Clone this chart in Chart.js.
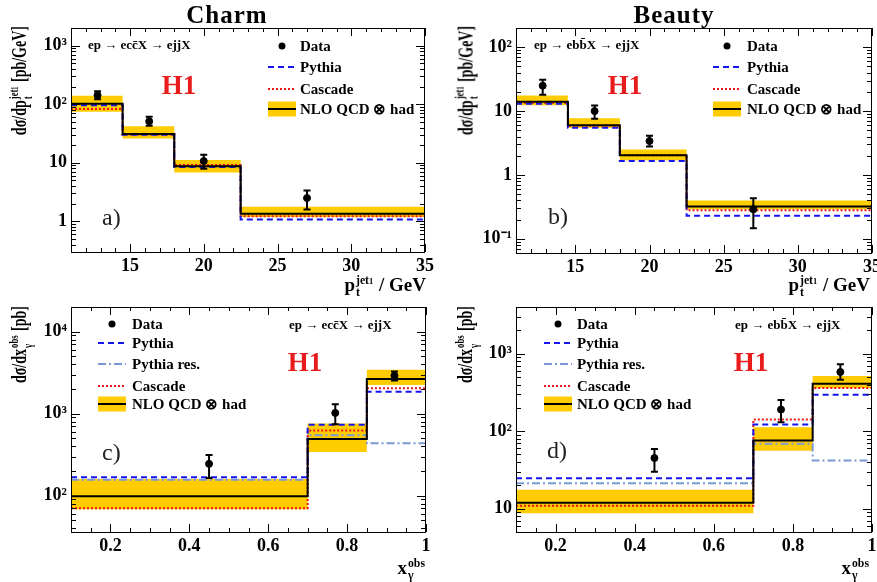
<!DOCTYPE html>
<html>
<head>
<meta charset="utf-8">
<script src="https://cdn.jsdelivr.net/npm/chart.js@4/dist/chart.umd.min.js"></script>
<style>
html, body { margin: 0; padding: 0; background: #fff; overflow: hidden; }
#wrap { position: relative; width: 877px; height: 582px; overflow: hidden; }
canvas { position: absolute; }
.t { position: absolute; white-space: nowrap; font-family: "Liberation Serif", "Times New Roman", serif; font-weight: bold; color: #000; line-height: 1; }
.ss { display: inline-block; vertical-align: middle; font-size: 0.62em; line-height: 1.05; text-align: left; margin: 0 1px; }
.ss > span { display: block; }
.ss small { font-size: 0.72em; }
.title { font-size: 25px; letter-spacing: 1px; }
.proc { font-size: 13px; }
.h1 { font-size: 27px; color: rgb(232, 28, 28); }
.tag { font-size: 24px; font-weight: normal; color: #222; }
.leg { font-size: 15px; }
.ytit { font-size: 14px; transform-origin: 100% 0; transform: rotate(-90deg) scale(1, 1.55); }
.xtit { font-size: 19px; }
svg { position: absolute; overflow: visible; }
</style>
</head>
<body>
<div id="wrap"></div>
<script>
// bin edges and data point positions
const ptEdges = [11, 14.5, 18, 22.5, 35];
const xgEdges = [0.1, 0.7, 0.85, 1.0];
const ptCentres = [12.8, 16.3, 20, 27];
const xgCentres = [0.45, 0.77, 0.92];

// tick labels
const ptTickLabels = [15, 20, 25, 30, 35];
const xgTickLabels = [0.2, 0.4, 0.6, 0.8, 1];

// a) charm, leading jet pt
const charmPtData = [142, 51, 10.7, 2.5];
const charmPtLo = [122, 43, 7.9, 1.6];
const charmPtHi = [166, 61, 13.7, 3.35];
const charmPtNlo = [102, 31, 8.7, 1.35];
const charmPtNloLo = [74, 26, 6.8, 1.19];
const charmPtNloHi = [140, 42, 11.2, 1.77];
const charmPtPythia = [96, 30, 8.5, 1.08];
const charmPtCascade = [83, 30.5, 9.2, 1.22];
const charmPtRange = [0.3, 2000];

// b) beauty, leading jet pt
const beautyPtData = [25, 10, 3.4, 0.29];
const beautyPtLo = [18, 7.6, 2.8, 0.146];
const beautyPtHi = [31, 12.2, 4.1, 0.43];
const beautyPtNlo = [14, 6.0, 2.03, 0.32];
const beautyPtNloLo = [12.4, 5.5, 1.7, 0.29];
const beautyPtNloHi = [17.6, 7.7, 2.5, 0.40];
const beautyPtPythia = [13, 5.5, 1.65, 0.23];
const beautyPtCascade = [13.5, 5.9, 2.05, 0.28];
const beautyPtRange = [0.06, 200];

// c) charm, x_gamma
const charmXgData = [244, 1020, 2900];
const charmXgLo = [164, 740, 2530];
const charmXgHi = [313, 1300, 3270];
const charmXgNlo = [98, 490, 2650];
const charmXgNloLo = [68, 340, 2240];
const charmXgNloHi = [160, 760, 3430];
const charmXgPythia = [168, 730, 1850];
const charmXgPythiaRes = [156, 545, 436];
const charmXgCascade = [70, 622, 2040];
const charmXgRange = [36, 20000];

// d) beauty, x_gamma
const beautyXgData = [45, 190, 580];
const beautyXgLo = [30, 130, 462];
const beautyXgHi = [59, 253, 730];
const beautyXgNlo = [11.9, 76, 410];
const beautyXgNloLo = [8.7, 56, 361];
const beautyXgNloHi = [17.5, 112, 516];
const beautyXgPythia = [24.7, 122, 294];
const beautyXgPythiaRes = [21.3, 69, 41.7];
const beautyXgCascade = [10.9, 141, 360];
const beautyXgRange = [5, 4000];

const YELLOW = '#ffcc00';
const BLUE = 'rgb(20, 20, 240)';
const LIGHTBLUE = 'rgb(122, 152, 215)';
const RED = 'rgb(240, 20, 20)';
const TICKFONT = { family: 'Liberation Serif', weight: 'bold', size: 18 };

const wrap = document.getElementById('wrap');

function stepPts(edges, vals) {
    return edges.map((e, i) => ({ x: e, y: vals[Math.min(i, vals.length - 1)] }));
}

function histLine(edges, vals, color, dash, order) {
    return { data: stepPts(edges, vals), stepped: true, borderColor: color, borderDash: dash,
             borderWidth: 2, pointRadius: 0, fill: false, order: order };
}

function isDecade(v) {
    const l = Math.log10(v);
    return Math.abs(l - Math.round(l)) < 1e-9;
}

function logTicks(min, max) {
    const out = [];
    for (let e = Math.floor(Math.log10(min)); e <= Math.ceil(Math.log10(max)); e++) {
        for (let m = 1; m <= 9; m++) {
            const v = m * Math.pow(10, e);
            if (v >= min * 0.9999 && v <= max * 1.0001) out.push({ value: v });
        }
    }
    return out;
}

function decadeLabel(v) {
    if (!isDecade(v)) return '';
    const k = Math.round(Math.log10(v));
    if (k === 0) return '1';
    if (k === 1) return '10';
    const sup = { '-': '⁻', '0': '⁰', '1': '¹', '2': '²', '3': '³', '4': '⁴', '5': '⁵' };
    return '10' + String(k).split('').map(c => sup[c]).join('');
}

const errorBars = {
    id: 'errorBars',
    afterDatasetsDraw(chart) {
        const ctx = chart.ctx, y = chart.scales.y;
        ctx.save();
        ctx.strokeStyle = '#000';
        ctx.lineWidth = 2;
        chart.data.datasets.forEach((ds, i) => {
            if (!ds.errLo) return;
            chart.getDatasetMeta(i).data.forEach((pt, j) => {
                const y1 = y.getPixelForValue(ds.errHi[j]);
                const y2 = y.getPixelForValue(ds.errLo[j]);
                ctx.beginPath();
                ctx.moveTo(pt.x, y1); ctx.lineTo(pt.x, y2);
                ctx.moveTo(pt.x - 3.5, y1); ctx.lineTo(pt.x + 3.5, y1);
                ctx.moveTo(pt.x - 3.5, y2); ctx.lineTo(pt.x + 3.5, y2);
                ctx.stroke();
            });
        });
        ctx.restore();
    }
};

function frameTicks(xLabels) {
    return {
        id: 'frameTicks',
        afterDatasetsDraw(chart) {
            const { ctx, chartArea: a } = chart;
            const x = chart.scales.x, y = chart.scales.y;
            ctx.save();
            ctx.strokeStyle = '#000';
            ctx.lineWidth = 1;
            ctx.beginPath();
            y.ticks.forEach(t => {
                const py = Math.round(y.getPixelForValue(t.value)) + 0.5;
                const len = isDecade(t.value) ? 9 : 5;
                ctx.moveTo(a.left, py); ctx.lineTo(a.left + len, py);
                ctx.moveTo(a.right, py); ctx.lineTo(a.right - len, py);
            });
            x.ticks.forEach(t => {
                const px = Math.round(x.getPixelForValue(t.value)) + 0.5;
                const major = xLabels.some(l => Math.abs(l - t.value) < 1e-6);
                const len = major ? 8 : 4;
                ctx.moveTo(px, a.bottom); ctx.lineTo(px, a.bottom - len);
                ctx.moveTo(px, a.top); ctx.lineTo(px, a.top + len);
            });
            ctx.stroke();
            ctx.strokeRect(a.left + 0.5, a.top + 0.5, a.right - a.left - 1, a.bottom - a.top);
            ctx.restore();
        }
    };
}

function makePanel(p) {
    const cv = document.createElement('canvas');
    cv.width = p.w; cv.height = p.h;
    cv.style.left = p.left + 'px';
    cv.style.top = p.top + 'px';
    wrap.appendChild(cv);

    const datasets = [];
    datasets.push({ data: stepPts(p.edges, p.nloHi), stepped: true, borderColor: 'rgba(0,0,0,0)',
                    borderWidth: 1, pointRadius: 0, backgroundColor: YELLOW, fill: '+1', order: 20 });
    datasets.push({ data: stepPts(p.edges, p.nloLo), stepped: true, borderColor: 'rgba(0,0,0,0)',
                    borderWidth: 1, pointRadius: 0, fill: false, order: 21 });
    if (p.pythiaRes) datasets.push(histLine(p.edges, p.pythiaRes, LIGHTBLUE, [8, 3, 2, 3], 6));
    datasets.push(histLine(p.edges, p.cascade, RED, [2, 2], 5));
    datasets.push(histLine(p.edges, p.pythia, BLUE, [6, 4], 4));
    datasets.push(histLine(p.edges, p.nlo, '#000', [], 3));
    datasets.push({ data: p.centres.map((c, i) => ({ x: c, y: p.data[i] })), showLine: false,
                    pointRadius: 3.5, pointBackgroundColor: '#000', pointBorderColor: '#000',
                    errLo: p.lo, errHi: p.hi, order: 0 });

    const xMin = p.edges[0], xMax = p.edges[p.edges.length - 1];
    new Chart(cv, {
        type: 'line',
        data: { datasets: datasets },
        options: {
            responsive: false,
            animation: false,
            devicePixelRatio: 1,
            layout: { padding: p.pad },
            plugins: { legend: { display: false }, tooltip: { enabled: false } },
            scales: {
                x: {
                    type: 'linear', min: xMin, max: xMax,
                    afterBuildTicks: s => {
                        const t = [];
                        for (let v = xMin; v <= xMax + 1e-9; v += p.xStep) t.push({ value: Math.round(v * 1e4) / 1e4 });
                        s.ticks = t;
                    },
                    afterFit: s => { s.height = 25; },
                    grid: { display: false, drawTicks: false },
                    border: { display: false },
                    ticks: {
                        autoSkip: false, maxRotation: 0, padding: 4, font: TICKFONT, color: '#000',
                        callback: v => p.xLabels.some(l => Math.abs(l - v) < 1e-6) ? String(Math.round(v * 1e4) / 1e4) : ''
                    }
                },
                y: {
                    type: 'logarithmic', min: p.yRange[0], max: p.yRange[1],
                    afterBuildTicks: s => { s.ticks = logTicks(p.yRange[0], p.yRange[1]); },
                    afterFit: s => { s.width = 60; },
                    grid: { display: false, drawTicks: false },
                    border: { display: false },
                    ticks: { autoSkip: false, padding: 4, font: TICKFONT, color: '#000', callback: v => decadeLabel(v) }
                }
            }
        },
        plugins: [errorBars, frameTicks(p.xLabels)]
    });
}

makePanel({ left: 0, top: 0, w: 438, h: 290, pad: { left: 11, right: 12, top: 28, bottom: 13 },
    edges: ptEdges, centres: ptCentres, xStep: 1, xLabels: ptTickLabels, yRange: charmPtRange,
    data: charmPtData, lo: charmPtLo, hi: charmPtHi, nlo: charmPtNlo, nloLo: charmPtNloLo, nloHi: charmPtNloHi,
    pythia: charmPtPythia, cascade: charmPtCascade });
makePanel({ left: 438, top: 0, w: 448, h: 290, pad: { left: 18, right: 14, top: 28, bottom: 12 },
    edges: ptEdges, centres: ptCentres, xStep: 1, xLabels: ptTickLabels, yRange: beautyPtRange,
    data: beautyPtData, lo: beautyPtLo, hi: beautyPtHi, nlo: beautyPtNlo, nloLo: beautyPtNloLo, nloHi: beautyPtNloHi,
    pythia: beautyPtPythia, cascade: beautyPtCascade });
makePanel({ left: 0, top: 290, w: 438, h: 292, pad: { left: 11, right: 12, top: 17, bottom: 25 },
    edges: xgEdges, centres: xgCentres, xStep: 0.05, xLabels: xgTickLabels, yRange: charmXgRange,
    data: charmXgData, lo: charmXgLo, hi: charmXgHi, nlo: charmXgNlo, nloLo: charmXgNloLo, nloHi: charmXgNloHi,
    pythia: charmXgPythia, pythiaRes: charmXgPythiaRes, cascade: charmXgCascade });
makePanel({ left: 438, top: 290, w: 448, h: 292, pad: { left: 18, right: 14, top: 17, bottom: 25 },
    edges: xgEdges, centres: xgCentres, xStep: 0.05, xLabels: xgTickLabels, yRange: beautyXgRange,
    data: beautyXgData, lo: beautyXgLo, hi: beautyXgHi, nlo: beautyXgNlo, nloLo: beautyXgNloLo, nloHi: beautyXgNloHi,
    pythia: beautyXgPythia, pythiaRes: beautyXgPythiaRes, cascade: beautyXgCascade });

// ---- text overlays ----
const SHIFT = { lm: 'translate(0,-50%)', cm: 'translate(-50%,-50%)', rm: 'translate(-100%,-50%)' };

function put(html, x, y, anchor, cls) {
    const d = document.createElement('div');
    d.className = 't ' + cls;
    d.innerHTML = html;
    d.style.left = x + 'px';
    d.style.top = y + 'px';
    d.style.transform = SHIFT[anchor];
    wrap.appendChild(d);
}

function yTitle(html, pivotX, topY) {
    const d = document.createElement('div');
    d.className = 't ytit';
    d.innerHTML = html;
    d.style.right = (877 - pivotX) + 'px';
    d.style.top = topY + 'px';
    wrap.appendChild(d);
}

function symbol(kind) {
    if (kind === 'data') return '<circle cx="14" cy="8" r="3.5" fill="#000"/>';
    if (kind === 'pythia') return `<line x1="0" y1="8" x2="28" y2="8" stroke="${BLUE}" stroke-width="2" stroke-dasharray="6 4"/>`;
    if (kind === 'res') return `<line x1="0" y1="8" x2="28" y2="8" stroke="${LIGHTBLUE}" stroke-width="2" stroke-dasharray="8 3 2 3"/>`;
    if (kind === 'cascade') return `<line x1="0" y1="8" x2="28" y2="8" stroke="${RED}" stroke-width="2" stroke-dasharray="2 2"/>`;
    return `<rect x="0" y="0.5" width="28" height="15" fill="${YELLOW}"/><line x1="0" y1="8" x2="28" y2="8" stroke="#000" stroke-width="2"/>`;
}

function legend(symX, textX, rows) {
    rows.forEach(r => {
        const s = document.createElementNS('http://www.w3.org/2000/svg', 'svg');
        s.setAttribute('width', 28); s.setAttribute('height', 16);
        s.style.left = symX + 'px';
        s.style.top = (r[0] - 8) + 'px';
        s.innerHTML = symbol(r[1]);
        wrap.appendChild(s);
        put(r[2], textX, r[0], 'lm', 'leg');
    });
}

const PROC_C = 'ep → ecc̄X → ejjX';
const PROC_B = 'ep → ebb̄X → ejjX';
const YT_PT = 'dσ/dp<span class="ss"><span>jet<small>1</small></span><span>t</span></span> [pb/GeV]';
const YT_XG = 'dσ/dx<span class="ss"><span>obs</span><span>γ</span></span> [pb]';
const XT_PT = 'p<span class="ss"><span>jet<small>1</small></span><span>t</span></span> / GeV';
const XT_XG = 'x<span class="ss"><span>obs</span><span>γ</span></span>';
const NLO_TXT = 'NLO QCD ⊗ had';

// a)
put('Charm', 227, 14, 'cm', 'title');
put(PROC_C, 88, 44, 'lm', 'proc');
put('H1', 179, 85, 'cm', 'h1');
put('a)', 102, 217, 'lm', 'tag');
legend(268, 300, [[46, 'data', 'Data'], [67, 'pythia', 'Pythia'], [89, 'cascade', 'Cascade'], [109, 'nlo', NLO_TXT]]);
yTitle(YT_PT, 7, 26);
put(XT_PT, 426, 287, 'rm', 'xtit');

// b)
put('Beauty', 674, 14, 'cm', 'title');
put(PROC_B, 534, 44, 'lm', 'proc');
put('H1', 625, 85, 'cm', 'h1');
put('b)', 548, 216, 'lm', 'tag');
legend(713, 747, [[46, 'data', 'Data'], [67, 'pythia', 'Pythia'], [89, 'cascade', 'Cascade'], [109, 'nlo', NLO_TXT]]);
yTitle(YT_PT, 453, 26);
put(XT_PT, 870, 287, 'rm', 'xtit');

// c)
legend(98, 132, [[324, 'data', 'Data'], [343, 'pythia', 'Pythia'], [364, 'res', 'Pythia res.'], [386, 'cascade', 'Cascade'], [404, 'nlo', NLO_TXT]]);
put(PROC_C, 289, 324, 'lm', 'proc');
put('H1', 305, 362, 'cm', 'h1');
put('c)', 102, 452, 'lm', 'tag');
yTitle(YT_XG, 7, 306);
put(XT_XG, 426, 570, 'rm', 'xtit');

// d)
legend(544, 577, [[324, 'data', 'Data'], [343, 'pythia', 'Pythia'], [364, 'res', 'Pythia res.'], [386, 'cascade', 'Cascade'], [404, 'nlo', NLO_TXT]]);
put(PROC_B, 735, 324, 'lm', 'proc');
put('H1', 751, 362, 'cm', 'h1');
put('d)', 547, 450, 'lm', 'tag');
yTitle(YT_XG, 453, 306);
put(XT_XG, 870, 570, 'rm', 'xtit');
</script>
</body>
</html>
